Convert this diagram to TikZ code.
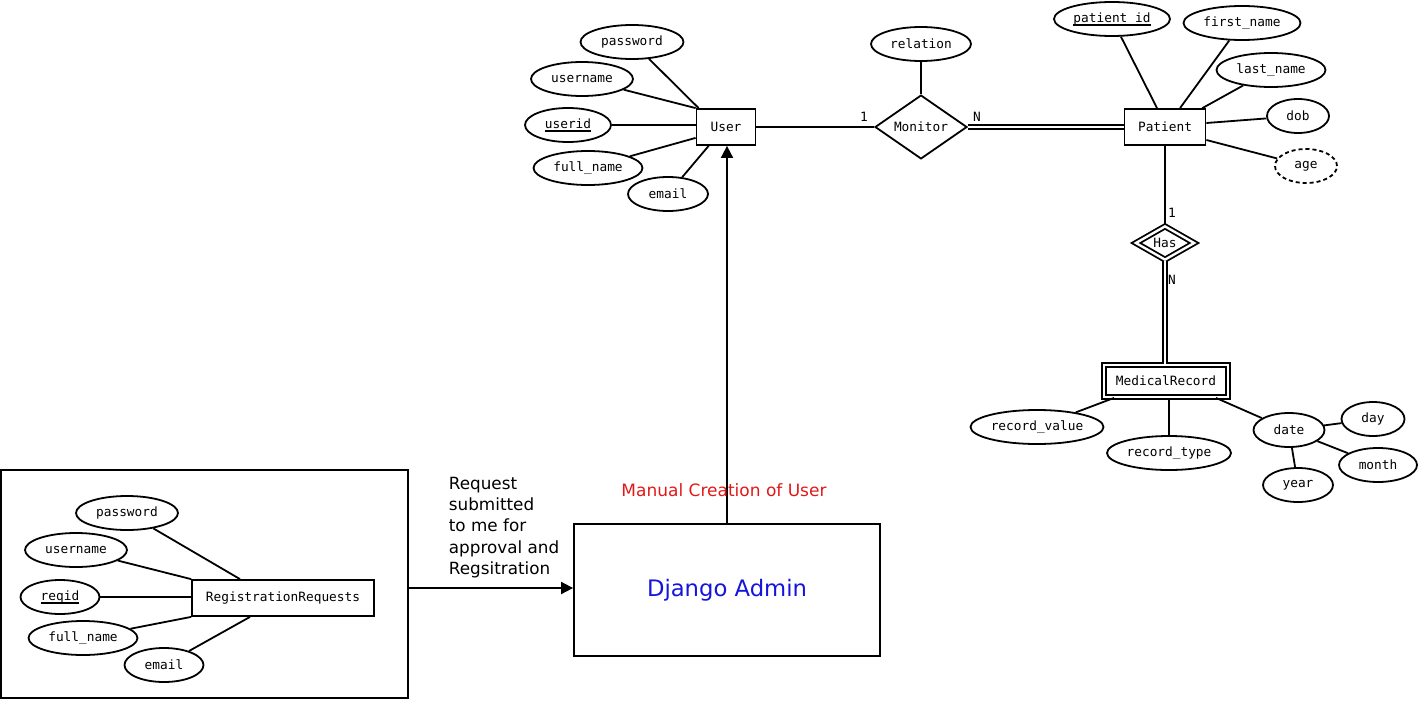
\documentclass[tikz,border=0pt]{standalone}
\usepackage{fontspec}
\setmainfont{DejaVu Sans}
\setmonofont{DejaVu Sans Mono}
\usetikzlibrary{shapes.geometric,arrows.meta}
\definecolor{mred}{RGB}{226,24,24}
\definecolor{mblue}{RGB}{20,20,220}
\newcommand{\keyu}[1]{\setbox0\hbox{#1}\rlap{\rule[-3.5pt]{\wd0}{1.6pt}}\box0}
\tikzset{
  every picture/.style={line width=1.8pt},
  attr/.style={draw, ellipse, inner sep=0pt, minimum height=34pt, font=\ttfamily\fontsize{12.8}{15}\selectfont},
  dattr/.style={attr, dash pattern=on 4pt off 3pt},
  ent/.style={draw, rectangle, inner sep=0pt, minimum height=36pt, font=\ttfamily\fontsize{12.8}{15}\selectfont},
  went/.style={draw, rectangle, double, double distance=2.4pt, inner sep=0pt, minimum height=32pt, font=\ttfamily\fontsize{12.8}{15}\selectfont},
  rel/.style={draw, diamond, inner sep=0pt, font=\ttfamily\fontsize{12.8}{15}\selectfont},
  wrel/.style={rel, double, double distance=2.4pt},
  card/.style={inner sep=0pt, font=\ttfamily\fontsize{12.8}{15}\selectfont},
  dconn/.style={double, double distance=2.4pt},
  arrowc/.style={-{Triangle[length=12pt,width=12pt]}},
}
\begin{document}
\begin{tikzpicture}[x=1pt,y=-1pt]
\useasboundingbox (0,0) rectangle (1420,701);
% ---- User entity and attributes
\node[ent, minimum width=59pt] (user) at (726,127) {User};
\node[attr, minimum width=103pt] (upw) at (632,42) {password};
\node[attr, minimum width=102pt] (uun) at (582,79) {username};
\node[attr, minimum width=86pt] (uid) at (568,125) {\keyu{userid}};
\node[attr, minimum width=109pt] (ufn) at (588,168) {full\_name};
\node[attr, minimum width=80pt] (uem) at (668,194) {email};
\draw (upw) -- ([xshift=3pt]user.north west);
\draw (uun) -- (user.north west);
\draw (uid) -- (user.west |- uid);
\draw (ufn) -- ([yshift=8pt]user.south west);
\draw (uem) -- ([xshift=13pt]user.south west);
% ---- Monitor relationship
\node[rel, minimum width=92pt, minimum height=56pt] (mon) at (921,127) {Monitor};
\node[attr, minimum width=100pt] (rela) at (921,44) {relation};
\draw (rela) -- (mon);
\draw (user) -- (mon);
\node[card] (c1) at (864,117) {1};
\node[card] (cn) at (977,117) {N};
% ---- Patient entity
\node[ent, minimum width=81pt] (pat) at (1165,127) {Patient};
\draw[dconn] (mon.east) -- (pat.west);
\node[attr, minimum width=116pt] (pid) at (1112,19) {\keyu{patient\_id}};
\node[attr, minimum width=117pt] (pfn) at (1242,23) {first\_name};
\node[attr, minimum width=109pt] (pln) at (1271,70) {last\_name};
\node[attr, minimum width=62pt] (pdob) at (1298,116) {dob};
\node[dattr, minimum width=62pt] (page) at (1306,166) {age};
\draw (pid) -- ([xshift=-8pt]pat.north);
\draw (pfn) -- ([xshift=15pt]pat.north);
\draw (pln) -- ([xshift=-4pt]pat.north east);
\draw (pdob) -- ([yshift=4pt]pat.east);
\draw (page) -- ([yshift=-13pt]pat.east);
% ---- Has weak relationship
\node[wrel, minimum width=59pt, minimum height=34pt] (has) at (1165,243) {Has};
\draw (pat) -- (has);
\node[card] (c2) at (1172,213) {1};
\node[card] (cn2) at (1172,280) {N};
% ---- MedicalRecord weak entity
\node[went, minimum width=124pt] (mr) at (1166,381) {MedicalRecord};
\draw[dconn] (has.south) -- (has.south |- mr.north);
\node[attr, minimum width=133pt] (rv) at (1037,427) {record\_value};
\node[attr, minimum width=124pt] (rt) at (1169,453) {record\_type};
\node[attr, minimum width=71pt] (dt) at (1289,430) {date};
\node[attr, minimum width=63pt] (dday) at (1373,419) {day};
\node[attr, minimum width=78pt] (dmon) at (1378,465) {month};
\node[attr, minimum width=70pt] (dyr) at (1298,485) {year};
\draw (rv) -- ([xshift=11pt]mr.south west);
\draw (rt) -- (rt |- mr.south);
\draw (dt) -- ([xshift=-13pt]mr.south east);
\draw (dt) -- (dday);
\draw (dt) -- (dmon);
\draw (dt) -- (dyr);
% ---- Django Admin
\node[draw, rectangle, minimum width=306pt, minimum height=132pt, inner sep=0pt,
      text=mblue, font=\fontsize{22.7}{26}\selectfont] (dj) at (727,590) {Django Admin};
\draw[arrowc] (dj.north) -- (dj.north |- user.south);
\node[text=mred, font=\fontsize{17}{20}\selectfont, inner sep=0pt] (man) at (724,490) {Manual Creation of User};
% ---- Registration requests box
\node[draw, rectangle, minimum width=407pt, minimum height=228pt, inner sep=0pt] (regbox) at (204.5,584) {};
\node[ent, minimum width=182pt] (rr) at (283,598) {RegistrationRequests};
\node[attr, minimum width=102pt] (rpw) at (127,513) {password};
\node[attr, minimum width=102pt] (run) at (76,550) {username};
\node[attr, minimum width=79pt] (rid) at (60,597) {\keyu{reqid}};
\node[attr, minimum width=109pt] (rfn) at (83,638) {full\_name};
\node[attr, minimum width=79pt] (rem) at (164,665) {email};
\draw (rpw) -- ([xshift=-43pt]rr.north);
\draw (run) -- (rr.north west);
\draw (rid) -- (rr.west |- rid);
\draw (rfn) -- (rr.south west);
\draw (rem) -- ([xshift=-33pt]rr.south);
\coordinate (astart) at ([yshift=-4pt]regbox.east);
\draw[arrowc] (astart) -- (astart -| dj.west);
\node[anchor=north west, align=left, inner sep=0pt, font=\fontsize{16.8}{21.3}\selectfont] (req) at (448,476)
  {Request\\submitted\\to me for\\approval and\\Regsitration};
\end{tikzpicture}
\end{document}
